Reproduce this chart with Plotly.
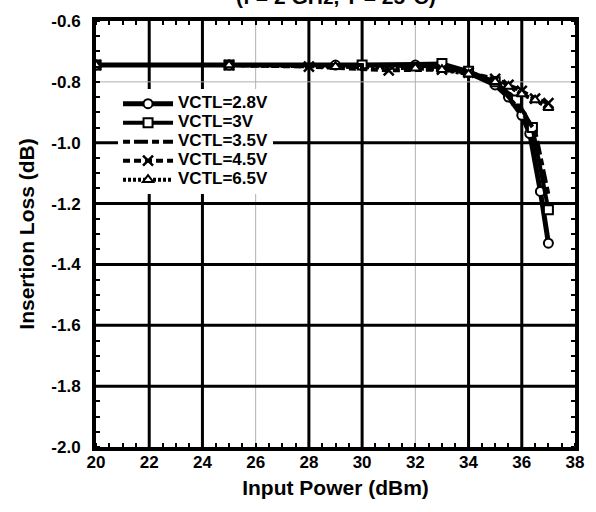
import plotly.graph_objects as go

# ---- data ----
x_28 = [20, 25, 29, 32, 33, 34, 35, 35.5, 36, 36.3, 36.7, 37]
y_28 = [-0.745, -0.745, -0.745, -0.745, -0.75, -0.77, -0.81, -0.85, -0.91, -0.97, -1.16, -1.33]

x_30 = [20, 25, 30, 33, 34, 35, 35.8, 36.4, 37]
y_30 = [-0.745, -0.745, -0.745, -0.74, -0.765, -0.80, -0.86, -0.95, -1.22]

x_35 = [20, 26, 30, 33, 34, 35, 36, 36.5, 37]
y_35 = [-0.745, -0.745, -0.745, -0.75, -0.77, -0.80, -0.90, -0.96, -1.17]

x_45 = [20, 25, 28, 31, 33, 34, 35, 35.5, 36, 36.5, 37]
y_45 = [-0.745, -0.745, -0.75, -0.762, -0.76, -0.77, -0.79, -0.81, -0.83, -0.855, -0.87]

x_65 = [20, 25, 29, 32, 33, 34, 35, 35.5, 36, 36.5, 37]
y_65 = [-0.745, -0.745, -0.75, -0.755, -0.76, -0.775, -0.80, -0.815, -0.84, -0.86, -0.885]

names = ["VCTL=2.8V", "VCTL=3V", "VCTL=3.5V", "VCTL=4.5V", "VCTL=6.5V"]

x_ticks = [20, 22, 24, 26, 28, 30, 32, 34, 36, 38]
y_ticks = [-0.6, -0.8, -1.0, -1.2, -1.4, -1.6, -1.8, -2.0]
x_grid_major = [22, 24, 28, 30, 34, 36]
x_grid_minor = [26, 32]
y_grid_major = [-1.0, -1.2, -1.4, -1.6, -1.8]
y_grid_minor = [-0.8]

FONT = "Liberation Sans, Arial, sans-serif"

series = [
    (x_28, y_28, names[0], "solid", "circle", 5),
    (x_30, y_30, names[1], "solid", "square", 4),
    (x_35, y_35, names[2], "7px,4px,14px,4px", None, 4),
    (x_45, y_45, names[3], "7px,4px", "x-thin-open", 4),
    (x_65, y_65, names[4], "3px,2px", "triangle-up", 4),
]

fig = go.Figure()
for xs, ys, nm, dash, sym, w in series:
    if sym is None:
        mode = "lines"
        marker = None
    else:
        mode = "lines+markers"
        if sym == "x-thin-open":
            marker = dict(symbol=sym, size=10, color="black", line=dict(color="black", width=2.5))
        else:
            marker = dict(symbol=sym, size=9, color="white", line=dict(color="black", width=2))
    fig.add_trace(go.Scatter(x=xs, y=ys, name=f"<span style='font-size:17px'>{nm}</span>",
                             mode=mode,
                             line=dict(color="black", width=w, dash=dash),
                             marker=marker))

shapes = []
for v in x_grid_major:
    shapes.append(dict(type="line", xref="x", yref="paper", x0=v, x1=v, y0=0, y1=1,
                       line=dict(color="black", width=3), layer="below"))
for v in x_grid_minor:
    shapes.append(dict(type="line", xref="x", yref="paper", x0=v, x1=v, y0=0, y1=1,
                       line=dict(color="#b0b0b0", width=1), layer="below"))
for v in y_grid_major:
    shapes.append(dict(type="line", xref="paper", yref="y", x0=0, x1=1, y0=v, y1=v,
                       line=dict(color="black", width=3), layer="below"))
for v in y_grid_minor:
    shapes.append(dict(type="line", xref="paper", yref="y", x0=0, x1=1, y0=v, y1=v,
                       line=dict(color="#b0b0b0", width=1), layer="below"))

fig.update_layout(
    width=596, height=512,
    margin=dict(l=96, r=21, t=17, b=65),
    paper_bgcolor="white", plot_bgcolor="white",
    font=dict(family=FONT, size=16, color="black", weight="bold"),
    shapes=shapes,
    showlegend=True,
    legend=dict(x=0.046, y=0.84, xanchor="left", yanchor="top",
                bgcolor="white", borderwidth=0, itemwidth=50,
                font=dict(family=FONT, size=12, color="black", weight="bold"),
                tracegroupgap=0),
    annotations=[dict(text="(f = 2 GHz, T = 25°C)", xref="paper", yref="paper",
                      x=0.5, y=1.026, xanchor="center", yanchor="bottom", showarrow=False,
                      font=dict(family=FONT, size=21, color="black", weight="bold"))],
)

fig.update_xaxes(
    range=[20, 38], tickvals=x_ticks, ticktext=[str(v) for v in x_ticks],
    showgrid=False, zeroline=False,
    showline=True, linecolor="black", linewidth=4, mirror="allticks",
    ticks="", ticklabelstandoff=-3,
    minor=dict(dtick=0.5, tick0=20, ticks="inside", ticklen=4, tickwidth=2, tickcolor="black", showgrid=False),
    title=dict(text="Input Power (dBm)", font=dict(family=FONT, size=21, color="black", weight="bold"), standoff=10),
    tickfont=dict(family=FONT, size=17, color="black", weight="bold"),
)
fig.update_yaxes(
    range=[-2.0, -0.6], tickvals=y_ticks, ticktext=[f"{v:.1f}" for v in y_ticks],
    showgrid=False, zeroline=False,
    showline=True, linecolor="black", linewidth=4, mirror="allticks",
    ticks="", ticklabelstandoff=8,
    minor=dict(dtick=0.05, tick0=-2.0, ticks="inside", ticklen=4, tickwidth=2, tickcolor="black", showgrid=False),
    title=dict(text="Insertion Loss (dB)", font=dict(family=FONT, size=21, color="black", weight="bold"), standoff=12),
    tickfont=dict(family=FONT, size=17, color="black", weight="bold"),
)

fig.write_html("out.html", config={"displayModeBar": False},
               post_script="document.body.style.margin='0';")
